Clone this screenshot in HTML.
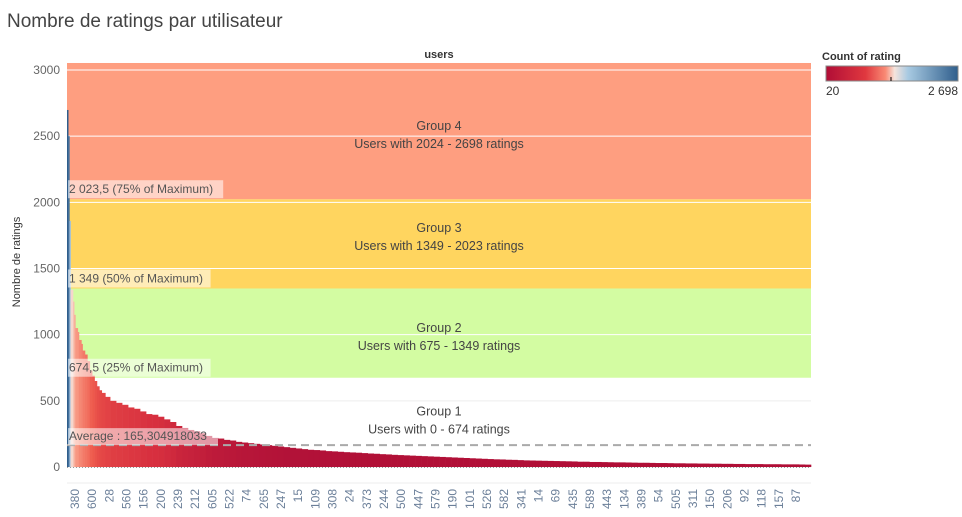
<!DOCTYPE html>
<html><head><meta charset="utf-8">
<style>
body{margin:0;background:#fff;font-family:"Liberation Sans",sans-serif;}
svg text{font-family:"Liberation Sans",sans-serif;}
</style></head>
<body>
<svg id="chart" width="962" height="512" viewBox="0 0 962 512" xmlns="http://www.w3.org/2000/svg">
<text x="7" y="27" font-size="19" fill="#444">Nombre de ratings par utilisateur</text>
<text x="439" y="58" font-size="11" font-weight="bold" fill="#333" text-anchor="middle">users</text>
<text transform="translate(20,262) rotate(-90)" font-size="11" fill="#333" text-anchor="middle">Nombre de ratings</text>
<g id="bands"></g>
<g id="grid"></g>
<g id="bars"></g>
<g id="labels"></g>
<g id="yaxis"></g>
<g id="xaxis"></g>
<g id="refs"></g>
<g>
<defs><linearGradient id="lg" x1="0" x2="1">
<stop offset="0" stop-color="#b00d36"/><stop offset="0.3" stop-color="#e0383f"/><stop offset="0.45" stop-color="#f98a74"/><stop offset="0.52" stop-color="#f5e4dc"/><stop offset="0.62" stop-color="#a8cae2"/><stop offset="1" stop-color="#2f5e8c"/>
</linearGradient></defs>
<text x="822" y="60" font-size="11" font-weight="bold" fill="#333">Count of rating</text>
<rect x="826" y="66" width="132" height="15" fill="url(#lg)" stroke="#888" stroke-width="1"/>
<line x1="891" y1="77" x2="891" y2="81" stroke="#000"/>
<text x="826" y="95" font-size="12" fill="#333">20</text>
<text x="958" y="95" font-size="12" fill="#333" text-anchor="end">2 698</text>
</g>
</svg>
<script>
const values=[2698,2500,1860,1340,1250,1150,1050,1020,960,930,880,850,800,730,690,650,610,580,560,530,500,485,470,450,440,420,400,395,380,360,340,310,295,280,270,255,235,220,215,205,200,190,185,180,175,170,165,160,155,150,145,140,135,130,128,125,120,118,115,112,110,108,105,102,100,97,95,92,90,88,86,84,82,80,78,76,74,72,70,68,66,64,62,60,58,57,55,54,52,50,49,48,47,46,45,44,43,42,40,40,38,38,37,36,35,35,34,33,32,32,31,30,30,29,28,28,27,27,26,26,25,25,24,24,23,23,22,22,22,21,21,21,20,20,20,19,18];
const userCounts=[1,1,1,2,1,1,2,1,2,1,2,2,2,2,2,2,2,2,3,4,5,5,5,5,5,5,5,5,5,5,5,5,5,5,5,5,5,5,5,5,5,5,5,5,5,5,5,5,5,5,5,5,5,5,5,5,5,5,5,5,5,5,5,5,5,5,5,5,5,5,5,5,5,5,5,5,5,5,5,5,5,5,5,5,5,5,5,5,5,5,5,5,5,5,5,5,5,5,5,5,5,5,5,5,5,5,5,5,5,5,5,5,5,5,5,5,5,5,5,5,5,5,5,5,5,5,5,5,5,5,5,5,5,5,5,5,5,5];
const xLabels=["380","600","28","560","156","200","239","212","605","522","74","265","247","15","109","308","24","373","244","500","447","579","190","101","526","582","341","14","69","435","589","443","134","389","54","505","311","150","206","92","118","157","87"];
const yTicks=[0,500,1000,1500,2000,2500,3000];
const groupBounds=[0,674.5,1349,2023.5,3053];
const groupNames=["Group 1","Group 2","Group 3","Group 4"];
const groupDesc=["Users with 0 - 674 ratings","Users with 675 - 1349 ratings","Users with 1349 - 2023 ratings","Users with 2024 - 2698 ratings"];
const refLabels=["674,5 (25% of Maximum)","1 349 (50% of Maximum)","2 023,5 (75% of Maximum)"];
const average=165.304918033;
const averageLabel="Average : 165,304918033";

const X0=67,X1=811,Y0=467,K=0.13233;
const y=v=>Y0-v*K;
const n=Math.min(values.length,userCounts.length);
let total=0;for(let i=0;i<n;i++)total+=userCounts[i];
const xu=u=>X0+u/total*(X1-X0);
const NS="http://www.w3.org/2000/svg";
function mk(t,a,p){const e=document.createElementNS(NS,t);for(const k in a)e.setAttribute(k,a[k]);p.appendChild(e);return e;}
const bandColors=[null,"#d3fca2","#ffd55f","#fe9e80"];
const labelOffset=[-3,3,-8,3];
const bands=document.getElementById('bands');
const labels=document.getElementById('labels');
for(let g=0;g<4;g++){
  if(bandColors[g]){const r=mk('rect',{x:X0,y:y(groupBounds[g+1]),width:X1-X0,height:y(groupBounds[g])-y(groupBounds[g+1]),fill:bandColors[g]},bands);
  
  }
  const cy=(y(groupBounds[g])+y(groupBounds[g+1]))/2+labelOffset[g];
  const t1=mk('text',{x:439,y:cy-4,'font-size':12.5,fill:'#444','text-anchor':'middle'},labels);t1.textContent=groupNames[g];
  
  
  const t2=mk('text',{x:439,y:cy+14,'font-size':12.5,fill:'#444','text-anchor':'middle'},labels);t2.textContent=groupDesc[g];
  
  
}
const grid=document.getElementById('grid');
yTicks.forEach(v=>{const l=mk('line',{x1:X0,x2:X1,y1:y(v),y2:y(v),stroke:v>674.5?'#fff':'#eee','stroke-width':1},grid);

});
mk('line',{x1:X0,x2:X1,y1:483,y2:483,stroke:'#eee'},grid);
function col(v){const s=[[0,[176,13,54]],[150,[178,18,56]],[400,[216,48,63]],[700,[238,90,76]],[1100,[249,160,138]],[1400,[245,228,220]],[1800,[168,200,226]],[2698,[47,94,140]]];
 for(let i=1;i<s.length;i++){if(v<=s[i][0]){const t=(v-s[i-1][0])/(s[i][0]-s[i-1][0]);const c=s[i-1][1].map((a,j)=>Math.round(a+(s[i][1][j]-a)*t));return `rgb(${c})`;}}return 'rgb(47,94,140)';}
const bars=document.getElementById('bars');
let cum=0;
for(let i=0;i<n;i++){const v=values[i];const xa=xu(cum);cum+=userCounts[i];const xb2=xu(cum);
 const r=mk('rect',{x:xa,y:y(v),width:xb2-xa+0.3,height:Y0-y(v),fill:col(v)},bars);
 
 }
mk('line',{x1:X0,x2:X1,y1:Y0+0.5,y2:Y0+0.5,stroke:'#999','stroke-dasharray':'1,2'},bars);
const ya=document.getElementById('yaxis');
yTicks.forEach(v=>{const t=mk('text',{x:60,y:y(v)+4,'font-size':12,fill:'#666','text-anchor':'end'},ya);t.textContent=v;

});
const xa=document.getElementById('xaxis');
const step=(796-75)/(xLabels.length-1);
xLabels.forEach((s,i)=>{const x=75+i*step;const t=mk('text',{transform:`translate(${x+4},489) rotate(-90)`,'font-size':12,fill:'#6b7f99','text-anchor':'end'},xa);t.textContent=s;

});
const refs=document.getElementById('refs');
[674.5,1349,2023.5].forEach((v,i)=>{const yy=y(v);
 const r=mk('rect',{x:68,y:yy-19,width:refLabels[i].length*6.3+4,height:18,fill:'rgba(255,255,255,0.55)'},refs);
 
 
 const t=mk('text',{x:69,y:yy-6,'font-size':12,fill:'#555'},refs);t.textContent=refLabels[i];
 
 });
const ay=y(average);
const al=mk('line',{x1:X0,x2:X1,y1:ay,y2:ay,stroke:'#aaa','stroke-width':2,'stroke-dasharray':'8,5'},refs);


const ab=mk('rect',{x:68,y:ay-17,width:150,height:17,fill:'rgba(255,255,255,0.55)'},refs);


const at=mk('text',{x:69,y:ay-5,'font-size':12,fill:'#555'},refs);at.textContent=averageLabel;


</script>
</body></html>
